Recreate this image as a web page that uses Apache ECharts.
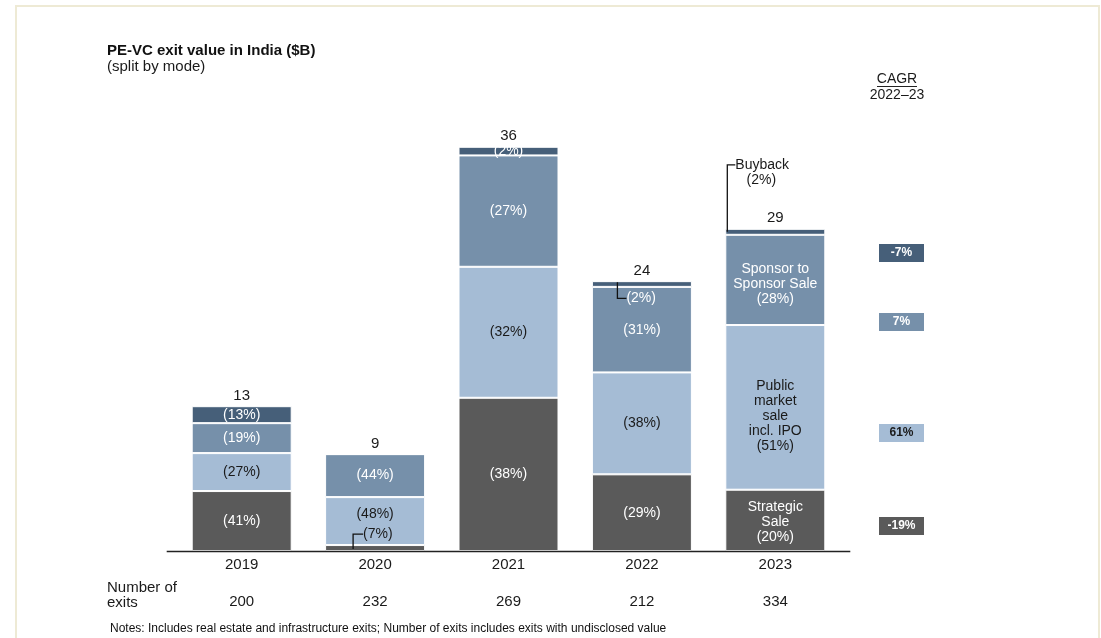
<!DOCTYPE html>
<html>
<head>
<meta charset="utf-8">
<script src="https://cdn.jsdelivr.net/npm/echarts@6/dist/echarts.min.js"></script>
<style>
html,body{margin:0;padding:0;background:#fff;}
#c{width:1101px;height:638px;}
</style>
</head>
<body>
<div id="c"></div>
<script>
var categories = ['2019', '2020', '2021', '2022', '2023'];
var strategic = [5.34, 0.53, 13.65, 6.83, 5.46];
var publicMkt = [3.38, 4.27, 11.67, 9.08, 14.67];
var sponsor = [2.67, 3.83, 9.92, 7.62, 8.04];
var buyback = [1.51, 0, 0.77, 0.51, 0.53];
var totalLabels = ['13', '9', '36', '24', '29'];
var exits = ['200', '232', '269', '212', '334'];
var strategicPct = ['41%', '7%', '38%', '29%', '20%'];
var publicPct = ['27%', '48%', '32%', '38%', '51%'];
var sponsorPct = ['19%', '44%', '27%', '31%', '28%'];
var buybackPct = ['13%', '', '2%', '2%', '2%'];
var segmentNames = ['Strategic\nSale', 'Public\nmarket\nsale\nincl. IPO', 'Sponsor to\nSponsor Sale', 'Buyback'];
var cagrLabels = ['-7%', '7%', '61%', '-19%'];
var cagrTitle = 'CAGR';
var cagrPeriod = '2022\u201323';
var titleText = 'PE-VC exit value in India ($B)';
var subtitleText = '(split by mode)';
var exitsTitle = 'Number of\nexits';
var notesText = 'Notes: Includes real estate and infrastructure exits; Number of exits includes exits with undisclosed value';

var FONT = 'Arial, "Liberation Sans", Helvetica, sans-serif';
var C_STRAT = '#5a5a5a', C_PUB = '#a5bcd5', C_SPON = '#7690aa', C_BUY = '#465f79';
var TXT = '#1a1a1a';
var last = categories.length - 1;

var totals = categories.map(function (c, i) {
  return strategic[i] + publicMkt[i] + sponsor[i] + buyback[i];
});

function mkLabelFmt(pct, segIdx) {
  return function (p) {
    if (p.dataIndex === last) return segmentNames[segIdx] + '\n(' + pct[p.dataIndex] + ')';
    return '(' + pct[p.dataIndex] + ')';
  };
}
function itemData(arr, hideIdx, extra) {
  return arr.map(function (v, i) {
    var d = { value: v };
    if (hideIdx.indexOf(i) >= 0) d.label = { show: false };
    if (extra && extra[i]) d.label = extra[i];
    return d;
  });
}
var labelBase = { show: true, position: 'inside', fontFamily: FONT, fontSize: 14, lineHeight: 15 };

var chart = echarts.init(document.getElementById('c'), null, { renderer: 'canvas' });
var option = {
  animation: false,
  backgroundColor: '#ffffff',
  grid: { left: 175, right: 259, top: 102, bottom: 87 },
  xAxis: [{
    type: 'category', data: categories, position: 'bottom',
    axisLine: { show: false }, axisTick: { show: false },
    axisLabel: { color: TXT, fontFamily: FONT, fontSize: 15, margin: 6 }
  }, {
    type: 'category', data: categories, position: 'bottom', offset: 37,
    axisLine: { show: false }, axisTick: { show: false },
    axisLabel: { color: TXT, fontFamily: FONT, fontSize: 15, margin: 6,
      formatter: function (v, i) { return exits[i]; } }
  }],
  yAxis: { type: 'value', min: 0, max: 40, show: false, splitLine: { show: false } },
  series: [
    { name: 'Strategic Sale', type: 'bar', stack: 's', barWidth: 100,
      itemStyle: { color: C_STRAT, borderColor: '#fff', borderWidth: 1 },
      label: Object.assign({}, labelBase, { color: '#fff', formatter: mkLabelFmt(strategicPct, 0) }),
      data: itemData(strategic, [1], { 4: Object.assign({}, labelBase, { color: '#fff', offset: [0, 2], formatter: mkLabelFmt(strategicPct, 0) }) }) },
    { name: 'Public market sale incl. IPO', type: 'bar', stack: 's',
      itemStyle: { color: C_PUB, borderColor: '#fff', borderWidth: 1 },
      label: Object.assign({}, labelBase, { color: TXT, formatter: mkLabelFmt(publicPct, 1) }),
      data: itemData(publicMkt, [], {
        1: Object.assign({}, labelBase, { color: TXT, offset: [0, -7], formatter: mkLabelFmt(publicPct, 1) }),
        4: Object.assign({}, labelBase, { color: TXT, offset: [0, 9], formatter: mkLabelFmt(publicPct, 1) }) }) },
    { name: 'Sponsor to Sponsor Sale', type: 'bar', stack: 's',
      itemStyle: { color: C_SPON, borderColor: '#fff', borderWidth: 1 },
      label: Object.assign({}, labelBase, { color: '#fff', formatter: mkLabelFmt(sponsorPct, 2) }),
      data: itemData(sponsor, [], { 4: Object.assign({}, labelBase, { color: '#fff', offset: [0, 4], formatter: mkLabelFmt(sponsorPct, 2) }) }) },
    { name: 'Buyback', type: 'bar', stack: 's',
      itemStyle: { color: C_BUY, borderColor: '#fff', borderWidth: 1 },
      label: Object.assign({}, labelBase, { color: '#fff', formatter: function (p) { return '(' + buybackPct[p.dataIndex] + ')'; } }),
      data: itemData(buyback, [1, 3, 4]) },
    { name: 'Total', type: 'scatter', symbolSize: 0, silent: true,
      itemStyle: { opacity: 1 },
      label: { show: true, position: 'top', distance: 3, color: TXT, fontFamily: FONT, fontSize: 15,
        formatter: function (p) { return totalLabels[p.dataIndex]; } },
      data: totals }
  ]
};
chart.setOption(option);

function px(i, v) { return chart.convertToPixel({ gridIndex: 0 }, [i, v]); }
var g = [];
function lineStyle() { return { stroke: '#111', lineWidth: 1.3, fill: null }; }

// frame
g.push({ type: 'polyline', shape: { points: [[16, 640], [16, 6], [1099, 6], [1099, 640]] }, style: { stroke: '#eeead5', lineWidth: 2, fill: null }, silent: true });

// axis line
var b0 = px(0, 0), b4 = px(last, 0);
g.push({ type: 'line', shape: { x1: b0[0] - 75, y1: b0[1] + 0.5, x2: b4[0] + 75, y2: b4[1] + 0.5 }, style: { stroke: '#222', lineWidth: 1.5 } });

// 2020 strategic annotation
var p20a = px(1, strategic[1] / 2), p20t = px(1, strategic[1]);
var y20 = p20t[1] - 11;
g.push({ type: 'polyline', shape: { points: [[p20a[0] - 22, p20a[1] + 1], [p20a[0] - 22, y20], [p20a[0] - 12, y20]] }, style: lineStyle() });
g.push({ type: 'text', style: { text: '(' + strategicPct[1] + ')', x: p20a[0] - 12, y: y20, textVerticalAlign: 'middle', textAlign: 'left', fill: TXT, font: '14px ' + FONT } });

// 2022 buyback annotation
var s22 = strategic[3] + publicMkt[3] + sponsor[3];
var p22top = px(3, s22 + buyback[3]), p22bot = px(3, s22);
var y22 = p22bot[1] + 11.5;
g.push({ type: 'polyline', shape: { points: [[p22top[0] - 24.5, p22top[1] + 1], [p22top[0] - 24.5, y22], [p22top[0] - 15.5, y22]] }, style: lineStyle() });
g.push({ type: 'text', style: { text: '(' + buybackPct[3] + ')', x: p22top[0] - 15.5, y: y22, textVerticalAlign: 'middle', textAlign: 'left', fill: '#fff', font: '14px ' + FONT } });

// 2023 buyback annotation
var s23 = strategic[4] + publicMkt[4] + sponsor[4];
var p23 = px(4, s23 + buyback[4] / 2);
var yB = p23[1] - 67;
g.push({ type: 'polyline', shape: { points: [[p23[0] - 48, p23[1]], [p23[0] - 48, yB], [p23[0] - 40, yB]] }, style: lineStyle() });
g.push({ type: 'text', style: { text: segmentNames[3], x: p23[0] - 40, y: yB, textVerticalAlign: 'middle', textAlign: 'left', fill: TXT, font: '14px ' + FONT } });
g.push({ type: 'text', style: { text: '(' + buybackPct[4] + ')', x: p23[0] - 14, y: yB + 15, textVerticalAlign: 'middle', textAlign: 'center', fill: TXT, font: '14px ' + FONT } });

// titles
g.push({ type: 'text', style: { text: titleText, x: 107, y: 51, textVerticalAlign: 'middle', fill: '#111', font: 'bold 15px ' + FONT } });
g.push({ type: 'text', style: { text: subtitleText, x: 107, y: 67, textVerticalAlign: 'middle', fill: TXT, font: '15px ' + FONT } });

// number of exits title & notes
g.push({ type: 'text', style: { text: exitsTitle, x: 107, y: 595, textVerticalAlign: 'middle', fill: TXT, font: '15px ' + FONT, lineHeight: 15 } });
g.push({ type: 'text', style: { text: notesText, x: 110, y: 629, textVerticalAlign: 'middle', fill: '#111', font: '12px ' + FONT } });

// CAGR header
g.push({ type: 'text', style: { text: cagrTitle, x: 897, y: 79, textAlign: 'center', textVerticalAlign: 'middle', fill: TXT, font: '14px ' + FONT } });
g.push({ type: 'line', shape: { x1: 877, y1: 86.5, x2: 917, y2: 86.5 }, style: { stroke: '#222', lineWidth: 1 } });
g.push({ type: 'text', style: { text: cagrPeriod, x: 897, y: 95, textAlign: 'center', textVerticalAlign: 'middle', fill: TXT, font: '14px ' + FONT } });

var cagrY = [253, 322, 433, 526];
var cagrBg = [C_BUY, C_SPON, C_PUB, C_STRAT];
var cagrFg = ['#fff', '#fff', TXT, '#fff'];
cagrLabels.forEach(function (t, i) {
  g.push({ type: 'rect', shape: { x: 879, y: cagrY[i] - 9, width: 45, height: 18 }, style: { fill: cagrBg[i] } });
  g.push({ type: 'text', style: { text: t, x: 901.5, y: cagrY[i], textAlign: 'center', textVerticalAlign: 'middle', fill: cagrFg[i], font: 'bold 12px ' + FONT } });
});

g.forEach(function (e) { e.z = 100; });
chart.setOption({ graphic: { elements: g } });
</script>
</body>
</html>
